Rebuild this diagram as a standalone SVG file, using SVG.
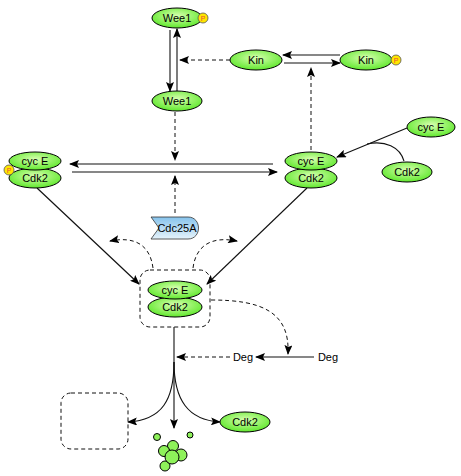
<svg xmlns="http://www.w3.org/2000/svg" width="461" height="476" viewBox="0 0 461 476">
<defs>
<radialGradient id="g" cx="50%" cy="40%" r="60%">
<stop offset="0" stop-color="#d8ffb0"/>
<stop offset="1" stop-color="#5fe82c"/>
</radialGradient>
<linearGradient id="b" x1="0" y1="0" x2="0" y2="1">
<stop offset="0" stop-color="#86c3ec"/>
<stop offset="1" stop-color="#e6f3fb"/>
</linearGradient>
<marker id="a" markerWidth="10" markerHeight="8" refX="9" refY="4" orient="auto" markerUnits="userSpaceOnUse">
<path d="M0,0 L10,4 L0,8 L2,4 Z" fill="#000"/>
</marker>
<style>
.e{fill:url(#g);stroke:#000;stroke-width:1}
.t{font-family:"Liberation Sans",Arial,sans-serif;font-size:11px;text-anchor:middle;fill:#000}
.p{fill:#ffe600;stroke:#555;stroke-width:0.8}
.pt{font-family:"Liberation Sans",Arial,sans-serif;font-size:7px;text-anchor:middle;fill:#e8503a}
.s{fill:none;stroke:#111;stroke-width:1.1}
.d{fill:none;stroke:#111;stroke-width:1;stroke-dasharray:4,3}
.bx{fill:none;stroke:#111;stroke-width:1;stroke-dasharray:4,3}
.ball{fill:#8ef25a;stroke:#000;stroke-width:1}
</style>
</defs>
<g id="connectors">
<line class="s" x1="170" y1="30" x2="170" y2="91" marker-end="url(#a)"/>
<line class="s" x1="177" y1="91" x2="177" y2="29" marker-end="url(#a)"/>
<line class="d" x1="230" y1="60" x2="180" y2="60" marker-end="url(#a)"/>
<line class="s" x1="340" y1="55" x2="283" y2="55" marker-end="url(#a)"/>
<line class="s" x1="284" y1="63" x2="340" y2="63" marker-end="url(#a)"/>
<line class="d" x1="311" y1="150" x2="311" y2="68" marker-end="url(#a)"/>
<line class="s" x1="273" y1="164" x2="70" y2="164" marker-end="url(#a)"/>
<line class="s" x1="72" y1="172" x2="277" y2="172" marker-end="url(#a)"/>
<line class="d" x1="175" y1="112" x2="175" y2="160" marker-end="url(#a)"/>
<line class="d" x1="175" y1="213" x2="175" y2="176" marker-end="url(#a)"/>
<line class="s" x1="407" y1="128" x2="337" y2="157" marker-end="url(#a)"/>
<path class="s" d="M404,161 C400,147 385,140 367,144"/>
<line class="s" x1="37" y1="188" x2="139" y2="284" marker-end="url(#a)"/>
<line class="s" x1="307" y1="188" x2="207" y2="284" marker-end="url(#a)"/>
<path class="d" d="M153,268 C150,245 135,236 110,241" marker-end="url(#a)"/>
<path class="d" d="M193,268 C196,245 212,236 237,241" marker-end="url(#a)"/>
<path class="d" d="M211,300 C262,300 290,312 288,354" marker-end="url(#a)"/>
<line class="s" x1="314" y1="357" x2="256" y2="357" marker-end="url(#a)"/>
<line class="d" x1="230" y1="357" x2="177" y2="357" marker-end="url(#a)"/>
<line class="s" x1="174" y1="327" x2="174" y2="428" marker-end="url(#a)"/>
<path class="s" d="M174,362 C174,400 162,420 128,422" marker-end="url(#a)"/>
<path class="s" d="M174,362 C174,400 188,420 220,422" marker-end="url(#a)"/>
</g>
<g id="wee1-p">
<ellipse class="e" cx="177" cy="18" rx="25" ry="10"/>
<text class="t" x="177" y="22">Wee1</text>
<circle class="p" cx="203" cy="18" r="5"/>
<text class="pt" x="203" y="20.5">P</text>
</g>
<g id="wee1">
<ellipse class="e" cx="177" cy="101" rx="25" ry="10"/>
<text class="t" x="177" y="105">Wee1</text>
</g>
<g id="kin">
<ellipse class="e" cx="256" cy="60" rx="26" ry="10"/>
<text class="t" x="256" y="64">Kin</text>
</g>
<g id="kin-p">
<ellipse class="e" cx="366" cy="60" rx="26" ry="10"/>
<text class="t" x="366" y="64">Kin</text>
<circle class="p" cx="396" cy="60" r="5"/>
<text class="pt" x="396" y="62.5">P</text>
</g>
<g id="cyce-cdk2-p">
<ellipse class="e" cx="35" cy="178" rx="26" ry="10"/>
<text class="t" x="35" y="182">Cdk2</text>
<ellipse class="e" cx="35" cy="161" rx="26" ry="9"/>
<text class="t" x="35" y="165">cyc E</text>
<circle class="p" cx="9" cy="170" r="5"/>
<text class="pt" x="9" y="172.5">P</text>
</g>
<g id="cyce-cdk2">
<ellipse class="e" cx="311" cy="178" rx="26" ry="10"/>
<text class="t" x="311" y="182">Cdk2</text>
<ellipse class="e" cx="311" cy="161" rx="26" ry="9"/>
<text class="t" x="311" y="165">cyc E</text>
</g>
<g id="cyce">
<ellipse class="e" cx="431" cy="127" rx="24" ry="10"/>
<text class="t" x="431" y="131">cyc E</text>
</g>
<g id="cdk2-free">
<ellipse class="e" cx="407" cy="172" rx="25" ry="10"/>
<text class="t" x="407" y="176">Cdk2</text>
</g>
<g id="cdc25a">
<path d="M151,217 L188,217 C202,217 202,239 188,239 L151,239 L159,228 Z" fill="url(#b)" stroke="#333" stroke-width="0.8"/>
<text class="t" x="177" y="232">Cdc25A</text>
</g>
<g id="complex">
<rect class="bx" x="140" y="270" width="70" height="57" rx="10"/>
<ellipse class="e" cx="175" cy="307" rx="27" ry="10"/>
<text class="t" x="175" y="311">Cdk2</text>
<ellipse class="e" cx="175" cy="290" rx="27" ry="9"/>
<text class="t" x="175" y="294">cyc E</text>
</g>
<g id="deg1"><text class="t" x="243" y="361">Deg</text></g>
<g id="deg2"><text class="t" x="328" y="361">Deg</text></g>
<g id="empty-box">
<rect class="bx" x="61" y="393" width="67" height="56" rx="10"/>
</g>
<g id="cdk2-out">
<ellipse class="e" cx="245" cy="422" rx="25" ry="10"/>
<text class="t" x="245" y="426">Cdk2</text>
</g>
<g id="fragments">
<circle class="ball" cx="157" cy="437" r="3.5"/>
<circle class="ball" cx="190" cy="435" r="3"/>
<circle class="ball" cx="173" cy="446" r="5.5"/>
<circle class="ball" cx="164" cy="451" r="5.5"/>
<circle class="ball" cx="181" cy="455" r="6"/>
<circle class="ball" cx="165" cy="466" r="5"/>
<circle class="ball" cx="172" cy="457" r="7"/>
</g>
</svg>
